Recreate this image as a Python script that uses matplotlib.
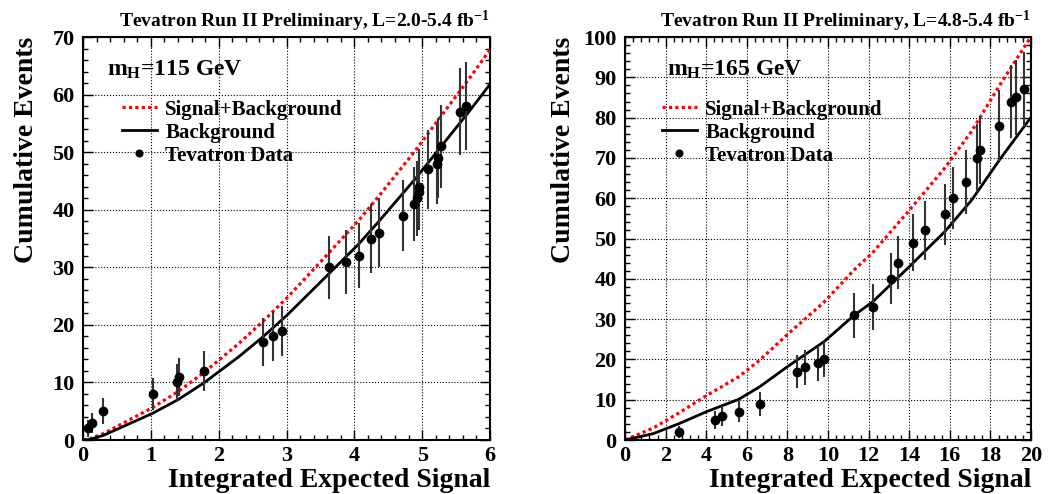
import numpy as np
import matplotlib
matplotlib.use('Agg')
import matplotlib.pyplot as plt
from matplotlib.ticker import MultipleLocator

plt.rcParams['font.family'] = 'Liberation Serif'
plt.rcParams['font.weight'] = 'bold'
plt.rcParams['mathtext.fontset'] = 'custom'
plt.rcParams['mathtext.rm'] = 'Liberation Serif:bold'
plt.rcParams['mathtext.it'] = 'Liberation Serif:bold'
plt.rcParams['mathtext.bf'] = 'Liberation Serif:bold'

# m_H = 115 GeV
x115 = [0.08, 0.14, 0.30, 1.03, 1.38, 1.41, 1.78, 2.65, 2.80, 2.94, 3.62, 3.87, 4.07,
        4.24, 4.37, 4.71, 4.88, 4.92, 4.95, 4.96, 5.08, 5.22, 5.23, 5.28, 5.56, 5.65]
n115 = [2, 3, 5, 8, 10, 11, 12, 17, 18, 19, 30, 31, 32,
        35, 36, 39, 41, 42, 43, 44, 47, 48, 49, 51, 57, 58]
bx115 = [0, 0.1, 0.3, 1.02, 1.4, 1.78, 2.3, 2.66, 3.0, 3.6, 4.06, 4.37, 4.9, 5.3, 5.7, 6.0]
bkg115 = [0, 0.1, 0.8, 4.6, 7.0, 9.9, 14.5, 18.0, 21.6, 28.6, 34.0, 38.1, 45.4, 51.3, 57.2, 61.8]
sb115 = [0, 0.2, 1.1, 5.6, 8.4, 11.7, 16.8, 20.7, 24.6, 32.2, 38.1, 42.5, 50.3, 56.6, 62.9, 67.8]

# m_H = 165 GeV
x165 = [2.68, 4.41, 4.80, 5.60, 6.63, 8.49, 8.89, 9.51, 9.79, 11.3, 12.2, 13.1, 13.47,
        14.2, 14.8, 15.75, 16.18, 16.82, 17.32, 17.5, 18.42, 19.0, 19.26, 19.65]
n165 = [2, 5, 6, 7, 9, 17, 18, 19, 20, 31, 33, 40, 44,
        49, 52, 56, 60, 64, 70, 72, 78, 84, 85, 87]
bx165 = [0, 1.4, 2.68, 4.0, 5.6, 6.63, 8.0, 9.8, 11.3, 12.2, 14.0, 15.75, 17.07, 18.5, 20.0]
bkg165 = [0, 1.6, 4.1, 7.0, 10.1, 13.2, 18.2, 24.4, 31.0, 34.3, 43.0, 51.7, 59.5, 69.9, 80.1]
sb165 = [0, 3.0, 6.8, 11.0, 15.7, 19.8, 26.2, 34.2, 42.3, 46.5, 57.0, 67.5, 76.6, 88.4, 100.1]

panels = [
    dict(x=x115, n=n115, bx=bx115, bkg=bkg115, sb=sb115, xmax=6, ymax=70,
         xmaj=1, xmin=0.2, mass='m$_{\\mathrm{H}}$=115 GeV',
         title='Tevatron Run II Preliminary, L=2.0-5.4 fb$^{-1}$',
         pos=[0.0792, 0.1093, 0.3884, 0.8157], mtx=0.06, lgx=0.095, ylp=10),
    dict(x=x165, n=n165, bx=bx165, bkg=bkg165, sb=sb165, xmax=20, ymax=100,
         xmaj=2, xmin=0.4, mass='m$_{\\mathrm{H}}$=165 GeV',
         title='Tevatron Run II Preliminary, L=4.8-5.4 fb$^{-1}$',
         pos=[0.5964, 0.1093, 0.3874, 0.8157], mtx=0.103, lgx=0.09, ylp=5),
]

fig = plt.figure(figsize=(10.48, 4.94), dpi=100)

for p in panels:
    ax = fig.add_axes(p['pos'])
    l1, = ax.plot(p['bx'], p['sb'], color='red', lw=2.3, ls=(0, (1, 1)), zorder=3)
    l2, = ax.plot(p['bx'], p['bkg'], color='black', lw=2.0, zorder=3)
    eb = ax.errorbar(p['x'], p['n'], yerr=np.sqrt(p['n']), fmt='o', color='black',
                     ecolor='0.2', elinewidth=1.5, ms=6, capsize=0, zorder=4)
    ax.set_xlim(0, p['xmax'])
    ax.set_ylim(0, p['ymax'])
    ax.xaxis.set_major_locator(MultipleLocator(p['xmaj']))
    ax.xaxis.set_minor_locator(MultipleLocator(p['xmin']))
    ax.yaxis.set_major_locator(MultipleLocator(10))
    ax.yaxis.set_minor_locator(MultipleLocator(2))
    ax.tick_params(which='both', direction='in', top=True, right=True, width=1)
    ax.tick_params(which='major', length=7, labelsize=16)
    ax.tick_params(axis='x', which='major', pad=4)
    ax.tick_params(axis='y', which='major', pad=6)
    ax.tick_params(which='minor', length=3.5)
    ax.grid(True, which='major', color='black', ls=':', lw=0.8)
    for s in ax.spines.values():
        s.set_linewidth(1.5)
    ax.set_xlabel('Integrated Expected Signal', fontsize=20, fontweight='bold',
                  loc='right', labelpad=2)
    ax.set_ylabel('Cumulative Events', fontsize=20, fontweight='bold',
                  loc='top', labelpad=p['ylp'])
    ax.set_title(p['title'], fontsize=14, fontweight='bold', loc='right', pad=7)
    ax.text(p['mtx'], 0.918, p['mass'], transform=ax.transAxes, fontsize=17,
            fontweight='bold', va='center', ha='left')
    ax.legend([l1, l2, eb[0]], ['Signal+Background', 'Background', 'Tevatron Data'],
              loc='upper left', bbox_to_anchor=(p['lgx'], 0.845), frameon=False,
              fontsize=15, handlelength=1.7, handletextpad=0.4, labelspacing=0.15,
              borderpad=0, borderaxespad=0, markerscale=0.8)

fig.savefig('out.png', dpi=100)
